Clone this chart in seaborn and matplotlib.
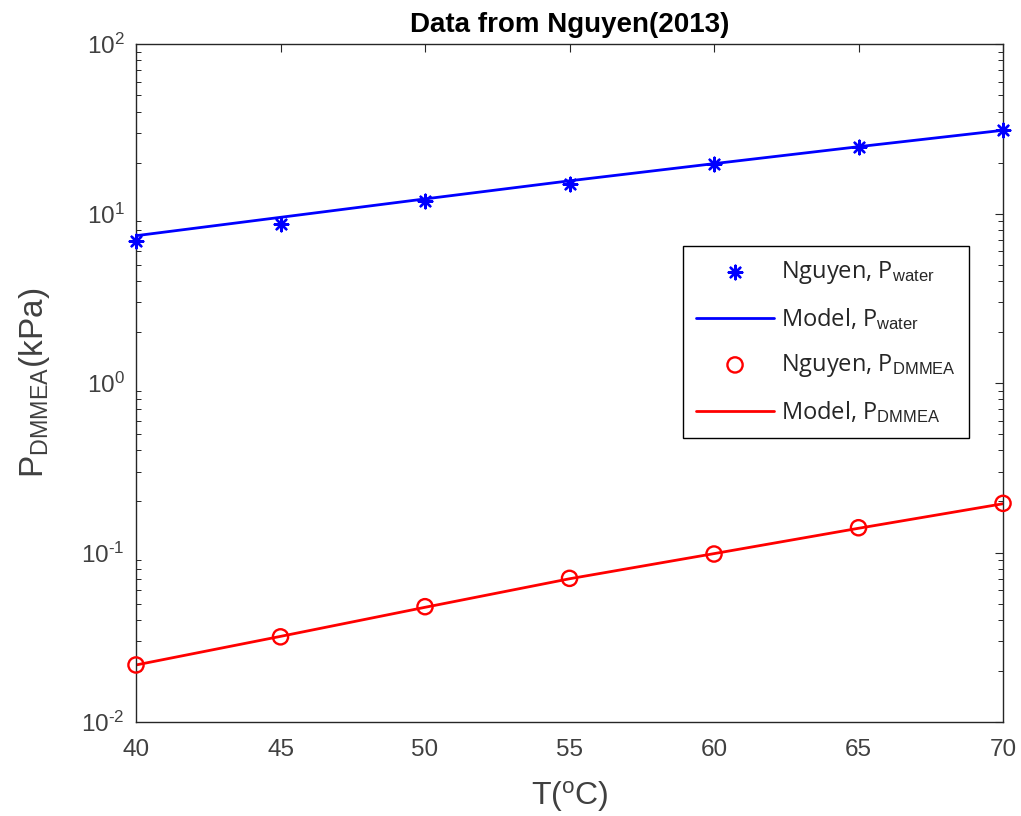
import numpy as np
import pandas as pd
import matplotlib
matplotlib.use("Agg")
import matplotlib.pyplot as plt
import matplotlib.ticker as mticker
import seaborn as sns

# Temperatures (deg C)
temperature = [40, 45, 50, 55, 60, 65, 70]

# Measured vapour pressures (kPa)
p_water_data = [6.9, 8.67, 11.8, 15.0, 19.5, 24.6, 31.0]
p_dmmea_data = [0.0217, 0.0318, 0.0479, 0.0704, 0.098, 0.140, 0.195]

# Model predictions (kPa)
p_water_model = [7.4, 9.5, 12.2, 15.6, 19.7, 24.8, 31.0]
p_dmmea_model = [0.0217, 0.0320, 0.0475, 0.0700, 0.0985, 0.139, 0.194]

sns.set_theme(style="white")
plt.rcParams["font.family"] = ["Liberation Sans", "DejaVu Sans"]
plt.rcParams["mathtext.fontset"] = "custom"
plt.rcParams["mathtext.rm"] = "Liberation Sans"
plt.rcParams["mathtext.it"] = "Liberation Sans:italic"
plt.rcParams["mathtext.bf"] = "Liberation Sans:bold"

df = pd.DataFrame({
    "T": temperature,
    "water_data": p_water_data,
    "dmmea_data": p_dmmea_data,
    "water_model": p_water_model,
    "dmmea_model": p_dmmea_model,
})

fig = plt.figure(figsize=(10.21, 8.16), dpi=100)
ax = fig.add_axes([0.1332, 0.1152, 0.8492, 0.8308])

ax.set_yscale("log")

sns.scatterplot(data=df, x="T", y="water_data", ax=ax, marker=(8, 2, 0),
                color="#0000ff", s=95, linewidth=1.7, edgecolor="#0000ff",
                label=r"Nguyen, P$_{\mathrm{water}}$", zorder=3, clip_on=False)
sns.lineplot(data=df, x="T", y="water_model", ax=ax, color="#0000ff",
             linewidth=2.0, label=r"Model, P$_{\mathrm{water}}$", zorder=2)
sns.scatterplot(data=df, x="T", y="dmmea_data", ax=ax, marker="o",
                facecolor="none", edgecolor="#ff0000", s=120, linewidth=1.7,
                label=r"Nguyen, P$_{\mathrm{DMMEA}}$", zorder=3, clip_on=False)
sns.lineplot(data=df, x="T", y="dmmea_model", ax=ax, color="#ff0000",
             linewidth=2.0, label=r"Model, P$_{\mathrm{DMMEA}}$", zorder=2)

ax.set_xlim(40, 70)
ax.set_ylim(1e-2, 1e2)
ax.set_xticks(temperature)


def decade_label(value, pos):
    exp = int(round(np.log10(value)))
    if exp < 0:
        return r"$10^{\text{-}%d}$" % (-exp)
    return r"$10^{%d}$" % exp


ax.yaxis.set_major_locator(mticker.LogLocator(base=10, numticks=10))
ax.yaxis.set_minor_locator(mticker.LogLocator(base=10, subs=np.arange(2, 10), numticks=20))
ax.yaxis.set_major_formatter(mticker.FuncFormatter(decade_label))
ax.yaxis.set_minor_formatter(mticker.NullFormatter())

axis_color = "#262626"
for side in ["top", "bottom", "left", "right"]:
    ax.spines[side].set_visible(True)
    ax.spines[side].set_color(axis_color)
    ax.spines[side].set_linewidth(1.0)

ax.tick_params(axis="both", which="major", direction="in", length=6, width=0.8,
               colors=axis_color, labelsize=17.5, top=True, right=True,
               labelcolor="#404040")
ax.tick_params(axis="x", which="major", pad=12)
ax.tick_params(axis="y", which="major", pad=8)
ax.tick_params(axis="y", which="minor", direction="in", length=3.5, width=0.7,
               colors=axis_color, left=True, right=True)

ax.set_title("Data from Nguyen(2013)", fontsize=20, fontweight="bold",
             color="#000000", pad=9)
ax.set_xlabel(r"T($^{\mathrm{o}}$C)", fontsize=23, color="#404040", labelpad=13)
ax.set_ylabel(r"P$_{\mathrm{DMMEA}}$(kPa)", fontsize=24, color="#404040", labelpad=21)

leg = ax.legend(loc="upper left", bbox_to_anchor=(0.631, 0.702),
                frameon=True, fancybox=False, edgecolor="#000000", framealpha=1,
                handlelength=3.3, labelspacing=0.85, borderpad=0.55,
                handletextpad=0.3, borderaxespad=0,
                prop={"family": ["Open Sans", "DejaVu Sans"], "size": 17})
leg.get_frame().set_linewidth(1.0)

fig.savefig("out.png", dpi=100, facecolor="white")
